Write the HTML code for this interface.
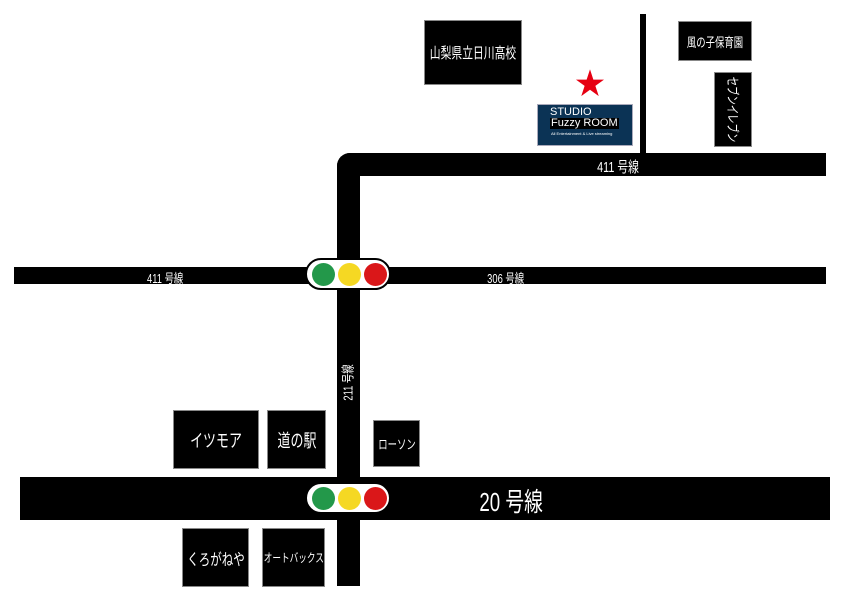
<!DOCTYPE html>
<html><head><meta charset="utf-8"><style>
body{margin:0;width:842px;height:595px;background:#fff;position:relative;overflow:hidden;font-family:"Liberation Sans","Noto Sans CJK JP",sans-serif}
div{position:absolute;box-sizing:border-box}
.b{background:#000;border:1px solid #888;color:#fff;display:flex;align-items:center;justify-content:center;white-space:nowrap;overflow:visible}
.r{background:#000}
.t{color:#fff;white-space:nowrap;transform:scaleX(.72);transform-origin:center;display:inline-block}
.light{background:#fff;border:2px solid #000;border-radius:16px;width:86px;height:32px}
.c{width:23px;height:23px;border-radius:50%;top:3px}
</style></head><body>
<div class="r" style="left:337px;top:153px;width:23px;height:433px;border-top-left-radius:13px"></div>
<div class="r" style="left:337px;top:153px;width:489px;height:23px;border-top-left-radius:13px"></div>
<div class="r" style="left:640px;top:14px;width:6px;height:142px"></div>
<div class="r" style="left:14px;top:267px;width:812px;height:17px"></div>
<div class="r" style="left:20px;top:477px;width:810px;height:43px"></div>
<div class="t" style="left:589px;top:156px;font-size:15px">411 号線</div>
<div class="t" style="left:140px;top:268px;font-size:13px">411 号線</div>
<div class="t" style="left:480px;top:268px;font-size:13px">306 号線</div>
<div class="t" style="left:467px;top:482px;font-size:26px">20 号線</div>
<div class="t" style="left:322px;top:373px;font-size:13px;transform:rotate(-90deg) scaleX(.72)">211 号線</div>
<div class="light" style="left:305px;top:258px">
<div class="c" style="left:5px;background:#23984a"></div><div class="c" style="left:31px;background:#f5d823"></div><div class="c" style="left:57px;background:#da1719"></div></div>
<div class="light" style="left:305px;top:482px">
<div class="c" style="left:5px;background:#23984a"></div><div class="c" style="left:31px;background:#f5d823"></div><div class="c" style="left:57px;background:#da1719"></div></div>
<div class="b" style="left:424px;top:20px;width:98px;height:65px;font-size:15px"><span class="t">山梨県立日川高校</span></div>
<div class="b" style="left:678px;top:21px;width:74px;height:40px;font-size:13px"><span class="t">風の子保育園</span></div>
<div class="b" style="left:714px;top:72px;width:38px;height:75px;font-size:13px"><span class="t" style="transform:rotate(90deg) scaleX(.72)">セブンイレブン</span></div>
<div style="left:537px;top:104px;width:96px;height:42px;background:#0b3355;border:1px solid #aab"></div>
<div style="left:550px;top:107px;color:#fff;font-size:11px;line-height:11px">STUDIO</div>
<div style="left:550px;top:118px;color:#fff;font-size:11px;line-height:11px;background:#000;padding:0 1px">Fuzzy ROOM</div>
<div style="left:551px;top:131px;color:#fff;font-size:4px">All Entertainment &amp; Live streaming</div>
<div style="left:575px;top:70px;color:#e60012;font-size:30px;line-height:30px">★</div>
<div class="b" style="left:173px;top:410px;width:86px;height:59px;font-size:18px"><span class="t">イツモア</span></div>
<div class="b" style="left:267px;top:410px;width:59px;height:59px;font-size:18px"><span class="t">道の駅</span></div>
<div class="b" style="left:373px;top:420px;width:47px;height:47px;font-size:13px"><span class="t">ローソン</span></div>
<div class="b" style="left:182px;top:528px;width:67px;height:59px;font-size:16px"><span class="t">くろがねや</span></div>
<div class="b" style="left:262px;top:528px;width:63px;height:59px;font-size:12px"><span class="t">オートバックス</span></div>
</body></html>
